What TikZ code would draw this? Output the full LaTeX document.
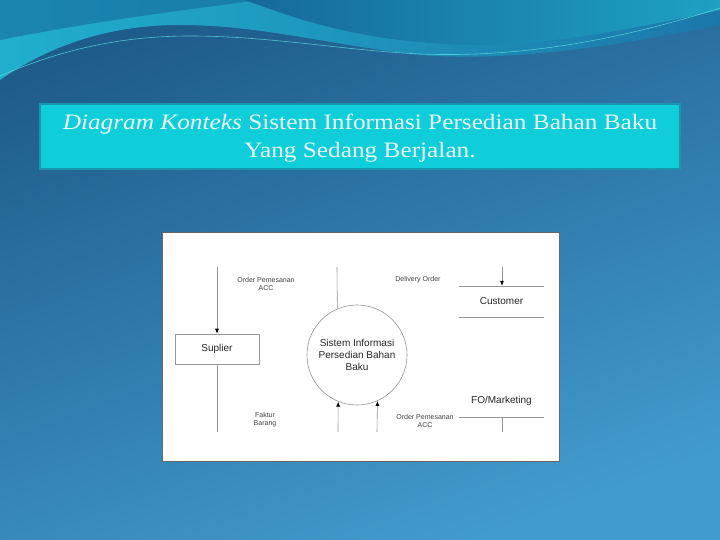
\documentclass[tikz,border=0pt]{standalone}
\usepackage{fontspec}
\setmainfont[FakeStretch=1.15]{Liberation Serif}
\newfontfamily\diafont{Liberation Sans}
\usetikzlibrary{arrows.meta,calc}
\definecolor{bgA}{RGB}{30,92,140}
\definecolor{bgB}{RGB}{66,155,205}
\definecolor{waveA}{RGB}{32,175,205}
\definecolor{waveB}{RGB}{28,120,170}
\definecolor{topdark}{RGB}{22,105,155}
\definecolor{wavelight}{RGB}{90,220,225}
\definecolor{titlefill}{RGB}{16,205,218}
\definecolor{titleborder}{RGB}{24,150,175}
\definecolor{titletext}{RGB}{235,252,252}
\definecolor{linegray}{RGB}{150,150,150}
\tikzset{
  dline/.style={draw=linegray, line width=0.6pt},
  darrow/.style={dline, arrows={-{Latex[length=5pt,width=4pt,color=black]}}},
  smalllbl/.style={font=\diafont\fontsize{7}{8}\selectfont, text=black!75, align=center, inner sep=0pt},
  entlbl/.style={font=\diafont\fontsize{10}{12}\selectfont, text=black!85, align=center, inner sep=0pt}
}
\begin{document}
\begin{tikzpicture}[x=1pt,y=-1pt]
\useasboundingbox (0,0) rectangle (720,540);
% background
\shade[top color=bgA, bottom color=bgB, shading angle=20] (0,0) rectangle (720,540);
% top wave
\shade[left color=waveA, right color=waveB] (0,0) -- (0,80) .. controls (50,45) and (110,25) .. (180,25) .. controls (260,25) and (330,45) .. (420,55) .. controls (520,62) and (620,45) .. (720,25) -- (720,0) -- cycle;
\fill[topdark, opacity=0.6] (0,0) -- (0,40) .. controls (100,20) and (200,8) .. (260,0) -- cycle;
\shade[left color=topdark, right color=waveA!80!topdark] (245,0) .. controls (300,20) and (360,42) .. (470,45) .. controls (560,45) and (650,25) .. (720,10) -- (720,0) -- cycle;
\draw[wavelight, line width=0.6pt, opacity=0.8] (0,76) .. controls (60,50) and (120,36) .. (190,36) .. controls (270,36) and (340,50) .. (420,54) .. controls (520,58) and (620,40) .. (720,8);
% title
\node[draw=titleborder, line width=2pt, fill=titlefill, minimum width=640pt, minimum height=65pt] (titlebox) at (360,136.5) {};
\node[text=titletext, align=center, font=\fontsize{22}{28}\selectfont] (title) at (360,138.5) {\textit{Diagram Konteks} Sistem Informasi Persedian Bahan Baku\\Yang Sedang Berjalan.};
% diagram panel
\node[draw=black!60, line width=0.8pt, fill=white, minimum width=397pt, minimum height=229pt, inner sep=0pt] (panel) at (360.5,346.5) {};
% entities
\node[dline, entlbl, minimum width=84pt, minimum height=30pt] (sup) at (217,349) {Suplier};
\node[dline, circle, minimum size=100pt, entlbl] (sys) at (357,355) {Sistem Informasi\\Persedian Bahan\\Baku};
\node[entlbl, minimum width=85pt, minimum height=31pt] (cust) at (501.5,301.5) {Customer};
\draw[dline] (cust.north west) -- (cust.north east);
\draw[dline] (cust.south west) -- (cust.south east);
\node[entlbl, minimum width=85pt, minimum height=32pt] (fo) at (501.5,401) {FO/Marketing};
\draw[dline] (fo.south west) -- (fo.south east);
% free ends
\coordinate (t1) at (217,267);
\coordinate (b1) at (217,432);
\coordinate (t2) at (337,267);
\coordinate (t3) at (502,267);
\coordinate (b2) at (338,432);
\coordinate (b3) at (377,432);
\coordinate (b4) at (502,432);
% connectors
\draw[darrow] (t1) -- (sup.north);
\draw[dline] (sup.south) -- (b1);
\draw[dline] (t2) -- (sys.113.6);
\draw[darrow] (t3) -- (t3 |- cust.north);
\draw[dline] (b4 |- fo.south) -- (b4);
\draw[darrow] (b2) -- (sys.-112.3);
\draw[darrow] (b3) -- (sys.-66.4);
% labels
\node[smalllbl] (l1) at (266,284) {Order Pemesanan\\ACC};
\node[smalllbl] (l2) at (418,280) {Delivery Order};
\node[smalllbl] (l3) at (265,420) {Faktur\\Barang};
\node[smalllbl] (l4) at (425,421) {Order Pemesanan\\ACC};
\end{tikzpicture}
\end{document}
